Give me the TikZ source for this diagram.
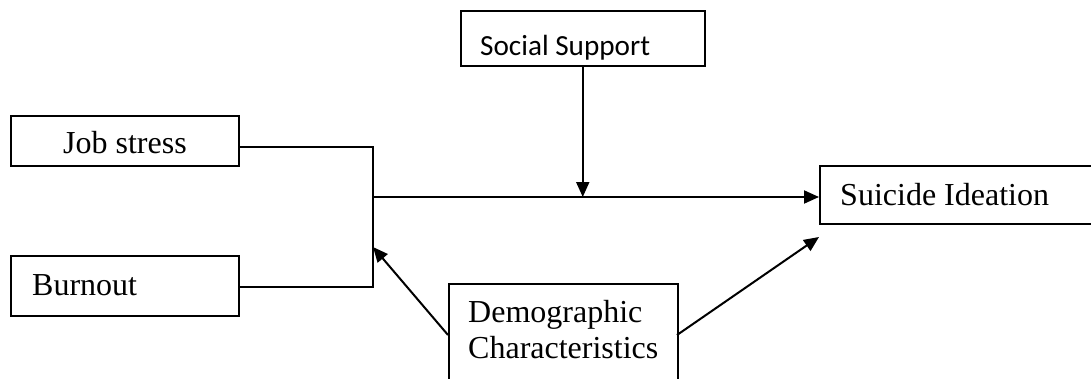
\documentclass[tikz,border=0pt]{standalone}
\usepackage{fontspec}
\setmainfont{Liberation Serif}
\newfontfamily\calib{Carlito}
\usetikzlibrary{arrows.meta,calc}
\begin{document}
\begin{tikzpicture}[x=1pt,y=-1pt,
  box/.style={draw,line width=1.5pt,rectangle,inner sep=0pt,anchor=north west},
  lbl/.style={anchor=base west,inner sep=0pt,font=\fontsize{32}{36}\selectfont},
  slbl/.style={anchor=base west,inner sep=0pt,font=\calib\fontsize{29.2}{34}\selectfont},
  conn/.style={line width=2pt},
  arr/.style={line width=2pt,-{Triangle[length=15pt,width=13pt]}}]
\clip (0,0) rectangle (1091,378);
\useasboundingbox (0,0) rectangle (1091,378);
\fill[white] (0,0) rectangle (1091,378);
% boxes
\node[box,minimum width=228pt,minimum height=50pt] (job) at (10,115) {};
\node[box,minimum width=228pt,minimum height=60pt] (burn) at (10,255) {};
\node[box,minimum width=244pt,minimum height=55pt] (soc) at (460,10) {};
\node[box,minimum width=280pt,minimum height=58pt] (sui) at (819,165) {};
\node[box,minimum width=229pt,minimum height=115pt] (demo) at (448,283) {};
% labels
\node[lbl] (tjob) at (63,153) {Job stress};
\node[lbl] (tburn) at (32,295) {Burnout};
\node[slbl] (tsoc) at (480,55) {Social Support};
\node[lbl] (tsui) at (840,205) {Suicide Ideation};
\node[lbl] (tdemo1) at (468,322) {Demographic};
\node[lbl] (tdemo2) at (468,358) {Characteristics};
% junction coordinates
\coordinate (j1) at (373,147);
\coordinate (j2) at (373,287);
\coordinate (jm) at (373,197);
\coordinate (jd) at (373,247);
\coordinate (dl) at (448,335);
\coordinate (dr) at (677,335);
\coordinate (st) at (819,237);
% connectors
\draw[conn] (job.east |- j1) -- (j1) -- (j2) -- (burn.east |- j2);
\draw[arr] (jm) -- (sui.west |- jm);
\draw[arr] (soc.south) -- (soc.south |- jm);
\draw[arr] (dl) -- (jd);
\draw[arr] (dr) -- (st);
\end{tikzpicture}
\end{document}
